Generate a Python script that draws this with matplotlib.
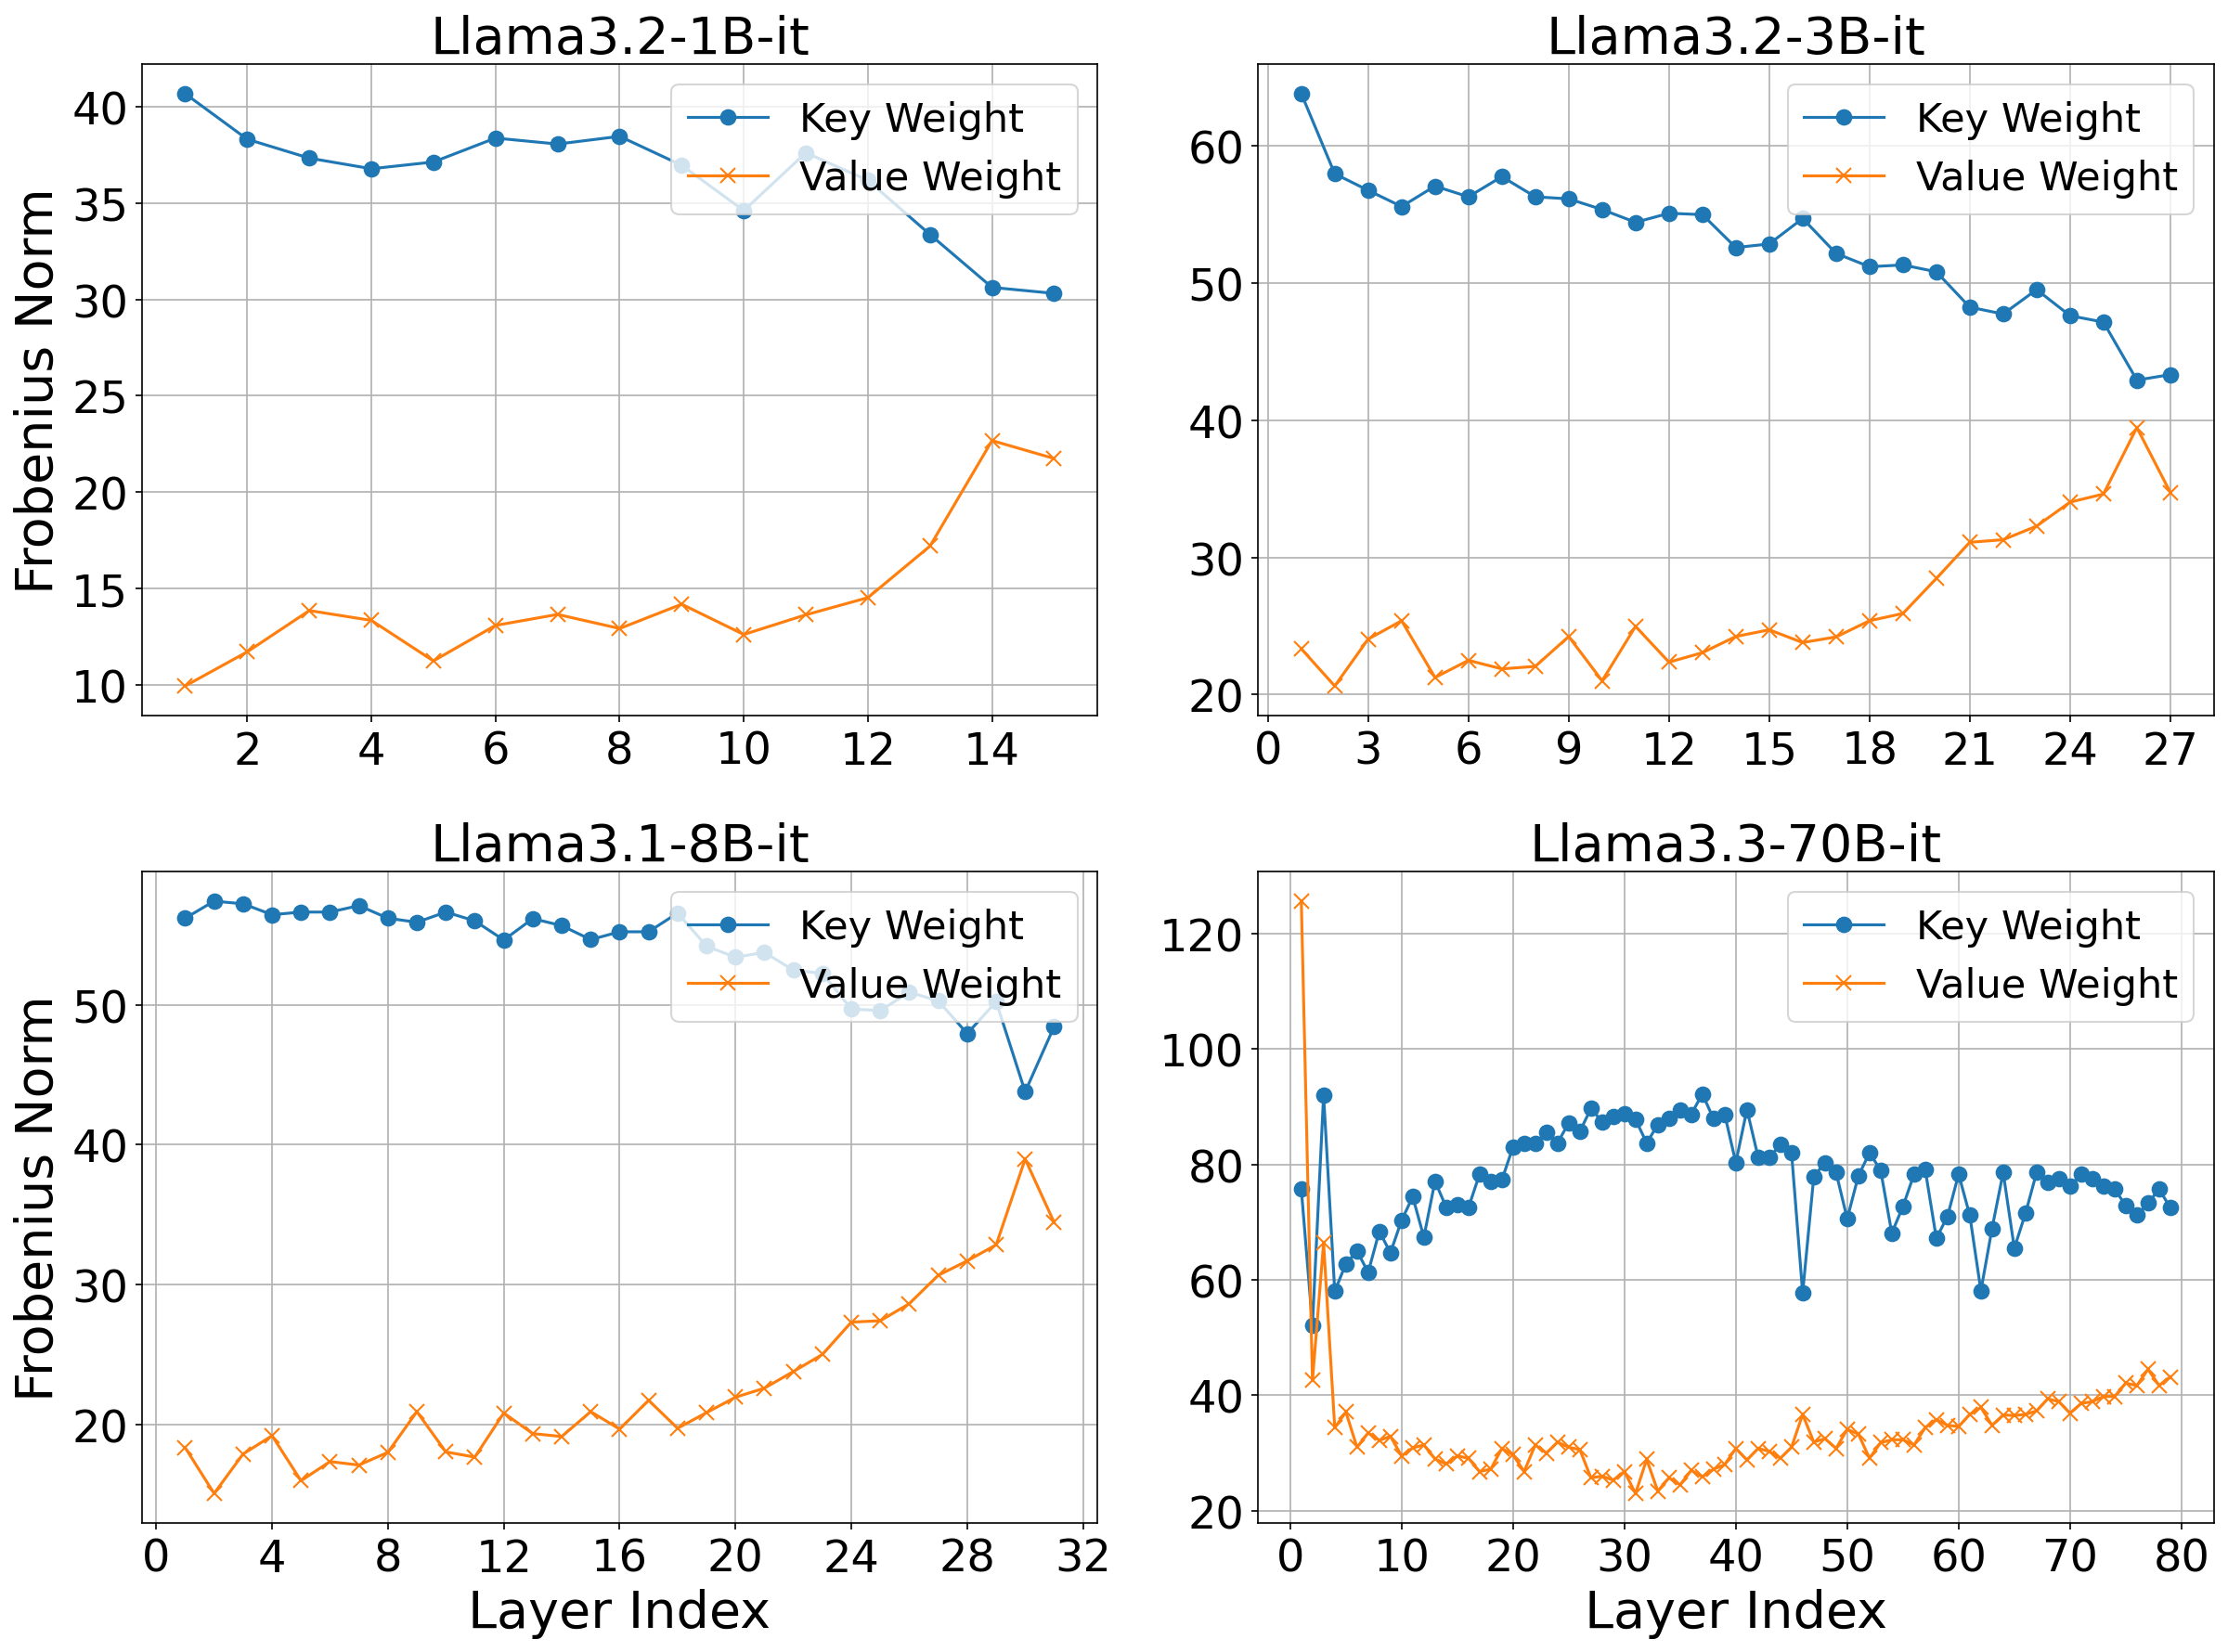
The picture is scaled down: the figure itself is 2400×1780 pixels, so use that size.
import numpy as np
import matplotlib.pyplot as plt
from matplotlib.ticker import MultipleLocator

# Frobenius norms per layer
key_1b = [40.66, 38.3, 37.32, 36.77, 37.12, 38.36, 38.05, 38.45, 36.95, 34.6,
          37.6, 36.17, 33.36, 30.62, 30.31]
val_1b = [9.96, 11.73, 13.87, 13.36, 11.26, 13.1, 13.67, 12.94, 14.2, 12.63,
          13.65, 14.54, 17.21, 22.68, 21.75]

key_3b = [63.82, 57.98, 56.77, 55.59, 57.08, 56.3, 57.77, 56.3, 56.15, 55.37,
          54.44, 55.1, 55.0, 52.6, 52.86, 54.72, 52.17, 51.2, 51.33, 50.83,
          48.25, 47.75, 49.53, 47.63, 47.16, 42.93, 43.33]
val_3b = [23.33, 20.62, 24.04, 25.38, 21.24, 22.49, 21.87, 22.05, 24.23, 21.0,
          24.97, 22.36, 23.05, 24.23, 24.72, 23.79, 24.2, 25.38, 25.91, 28.46,
          31.1, 31.29, 32.28, 34.03, 34.62, 39.47, 34.74]

key_8b = [56.19, 57.41, 57.22, 56.44, 56.63, 56.63, 57.09, 56.19, 55.9, 56.63,
          56.0, 54.63, 56.16, 55.66, 54.66, 55.22, 55.22, 56.56, 54.19, 53.4,
          53.75, 52.47, 52.25, 49.69, 49.59, 50.9, 50.28, 47.94, 50.22, 43.78,
          48.44]
val_8b = [18.34, 15.06, 17.88, 19.19, 15.97, 17.34, 17.09, 18.0, 20.91, 18.03,
          17.66, 20.81, 19.34, 19.13, 20.91, 19.66, 21.72, 19.72, 20.84, 21.94,
          22.59, 23.78, 25.0, 27.31, 27.41, 28.63, 30.66, 31.69, 32.84, 38.97,
          34.44]

key_70b = [75.7, 52.2, 92.0, 58.0, 62.8, 65.0, 61.3, 68.4, 64.7, 70.3,
           74.4, 67.4, 77.1, 72.6, 73.1, 72.5, 78.3, 77.0, 77.3, 83.0,
           83.6, 83.7, 85.5, 83.7, 87.2, 85.7, 89.7, 87.4, 88.3, 88.8,
           87.8, 83.7, 86.9, 88.0, 89.4, 88.7, 92.2, 87.9, 88.7, 80.3,
           89.5, 81.3, 81.2, 83.4, 82.1, 57.7, 77.9, 80.3, 78.6, 70.6,
           78.0, 82.0, 79.0, 68.1, 72.7, 78.3, 79.1, 67.2, 71.0, 78.3,
           71.2, 58.1, 68.9, 78.6, 65.5, 71.5, 78.6, 76.9, 77.6, 76.2,
           78.4, 77.5, 76.3, 75.7, 72.9, 71.2, 73.3, 75.7, 72.5]
val_70b = [125.6, 42.6, 66.4, 34.4, 37.1, 31.0, 33.5, 32.2, 32.9, 29.5,
           30.9, 31.4, 29.0, 28.1, 29.5, 29.1, 26.8, 27.2, 30.8, 29.7,
           26.8, 31.4, 30.0, 31.9, 31.0, 30.6, 25.7, 26.0, 25.3, 26.8,
           23.0, 28.9, 23.4, 25.7, 24.5, 27.0, 25.9, 27.2, 28.0, 30.8,
           28.8, 30.8, 30.3, 29.1, 31.0, 36.7, 31.9, 32.5, 30.8, 34.1,
           33.3, 29.1, 31.8, 32.3, 32.3, 31.4, 34.4, 35.8, 34.8, 34.6,
           36.7, 37.9, 34.8, 36.6, 36.5, 36.7, 37.3, 39.4, 38.9, 36.9,
           38.6, 38.9, 39.8, 39.8, 42.1, 41.7, 44.5, 41.7, 43.2]

titles = ['Llama3.2-1B-it', 'Llama3.2-3B-it', 'Llama3.1-8B-it', 'Llama3.3-70B-it']
keys = [key_1b, key_3b, key_8b, key_70b]
vals = [val_1b, val_3b, val_8b, val_70b]
xsteps = [2, 3, 4, 10]

fig, axes = plt.subplots(2, 2, figsize=(16, 11.873), dpi=150)
axes = axes.flatten()

for i, ax in enumerate(axes):
    layers = np.arange(1, len(keys[i]) + 1)
    ax.plot(layers, keys[i], marker='o', markersize=7.5, label='Key Weight')
    ax.plot(layers, vals[i], marker='x', markersize=7.5, label='Value Weight')
    ax.set_title(titles[i], fontsize=26.7)
    ax.tick_params(labelsize=23)
    ax.xaxis.set_major_locator(MultipleLocator(xsteps[i]))
    ax.grid(True)
    ax.legend(loc='upper right', fontsize=20.7)
    if i % 2 == 0:
        ax.set_ylabel('Frobenius Norm', fontsize=26.7)
    if i >= 2:
        ax.set_xlabel('Layer Index', fontsize=26.7)

plt.subplots_adjust(left=0.0636, right=0.9936, top=0.9607, bottom=0.078,
                    wspace=0.1677, hspace=0.2393)
plt.savefig('out.png')
